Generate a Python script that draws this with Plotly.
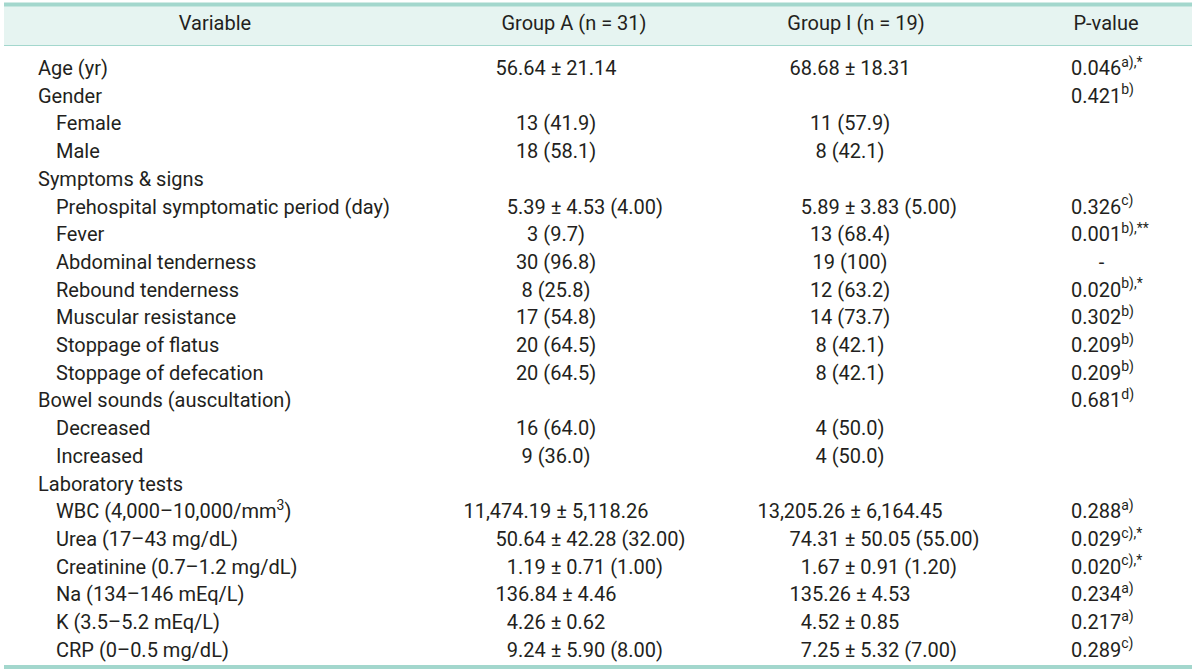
import plotly.graph_objects as go

# ---- table content -------------------------------------------------------
headers = ["Variable", "Group A (n = 31)", "Group I (n = 19)", "P-value"]

variables = [
    "Age (yr)", "Gender", "Female", "Male", "Symptoms & signs",
    "Prehospital symptomatic period (day)", "Fever", "Abdominal tenderness",
    "Rebound tenderness", "Muscular resistance", "Stoppage of flatus",
    "Stoppage of defecation", "Bowel sounds (auscultation)", "Decreased",
    "Increased", "Laboratory tests", "WBC (4,000–10,000/mm<sup>3</sup>)",
    "Urea (17–43 mg/dL)", "Creatinine (0.7–1.2 mg/dL)", "Na (134–146 mEq/L)",
    "K (3.5–5.2 mEq/L)", "CRP (0–0.5 mg/dL)",
]
levels = [0, 0, 1, 1, 0, 1, 1, 1, 1, 1, 1, 1, 0, 1, 1, 0, 1, 1, 1, 1, 1, 1]

group_a = [
    "56.64 ± 21.14", "", "13 (41.9)", "18 (58.1)", "",
    "5.39 ± 4.53 (4.00)", "3 (9.7)", "30 (96.8)", "8 (25.8)", "17 (54.8)",
    "20 (64.5)", "20 (64.5)", "", "16 (64.0)", "9 (36.0)", "",
    "11,474.19 ± 5,118.26", "50.64 ± 42.28 (32.00)", "1.19 ± 0.71 (1.00)",
    "136.84 ± 4.46", "4.26 ± 0.62", "9.24 ± 5.90 (8.00)",
]
group_i = [
    "68.68 ± 18.31", "", "11 (57.9)", "8 (42.1)", "",
    "5.89 ± 3.83 (5.00)", "13 (68.4)", "19 (100)", "12 (63.2)", "14 (73.7)",
    "8 (42.1)", "8 (42.1)", "", "4 (50.0)", "4 (50.0)", "",
    "13,205.26 ± 6,164.45", "74.31 ± 50.05 (55.00)", "1.67 ± 0.91 (1.20)",
    "135.26 ± 4.53", "4.52 ± 0.85", "7.25 ± 5.32 (7.00)",
]
p_values = [
    "0.046", "0.421", "", "", "", "0.326", "0.001", "-", "0.020", "0.302",
    "0.209", "0.209", "0.681", "", "", "", "0.288", "0.029", "0.020",
    "0.234", "0.217", "0.289",
]
p_notes = [
    "a),*", "b)", "", "", "", "c)", "b),**", "", "b),*", "b)",
    "b)", "b)", "d)", "", "", "", "a)", "c),*", "c),*",
    "a)", "a)", "c)",
]

# ---- geometry (pixels) ---------------------------------------------------
W, H = 1200, 672
ROW0, STEP = 70, 27.7
TEXT = "#231f20"
TEAL = "#a3d7cd"
BAND = "#e6f4f1"
FONT = dict(family="Roboto", size=20, color=TEXT)


def yv(px):
    return (px - ROW0) / STEP


def centered(cell):
    # keep "mean ± SD" centred and let the median hang to the right
    if cell.count("(") == 1 and "±" in cell:
        tail = cell[cell.index("("):]
        return f'<span style="color:rgba(0,0,0,0)">{tail}&nbsp;</span>{cell}'
    return cell


def p_text(val, note):
    if val == "-":
        return '<span style="color:rgba(0,0,0,0)">0.0</span>-'
    if note:
        return f"{val}<sup>{note}</sup>"
    return val


rows = list(range(len(variables)))

fig = go.Figure()

fig.add_trace(go.Scatter(
    x=[38 + 18 * lv for lv in levels], y=rows, text=variables,
    mode="text", textposition="middle right", textfont=FONT,
))
fig.add_trace(go.Scatter(
    x=[556] * len(rows), y=rows, text=[centered(c) for c in group_a],
    mode="text", textposition="middle center", textfont=FONT,
))
fig.add_trace(go.Scatter(
    x=[850] * len(rows), y=rows, text=[centered(c) for c in group_i],
    mode="text", textposition="middle center", textfont=FONT,
))
fig.add_trace(go.Scatter(
    x=[1071] * len(rows), y=rows,
    text=[p_text(v, n) for v, n in zip(p_values, p_notes)],
    mode="text", textposition="middle right", textfont=FONT,
))
fig.add_trace(go.Scatter(
    x=[215, 574, 856, 1106], y=[yv(25)] * 4, text=headers,
    mode="text", textposition="middle center", textfont=FONT,
))

fig.add_shape(type="rect", x0=4, x1=1192, y0=yv(6), y1=yv(45),
              fillcolor=BAND, line_width=0, layer="below")
fig.add_shape(type="line", x0=4, x1=1192, y0=yv(4.5), y1=yv(4.5),
              line=dict(color=TEAL, width=4))
fig.add_shape(type="line", x0=4, x1=1192, y0=yv(45.5), y1=yv(45.5),
              line=dict(color=TEAL, width=1.2))
fig.add_shape(type="line", x0=4, x1=1192, y0=yv(667), y1=yv(667),
              line=dict(color=TEAL, width=4))

fig.update_layout(
    width=W, height=H,
    margin=dict(l=0, r=0, t=0, b=0),
    paper_bgcolor="white", plot_bgcolor="white",
    showlegend=False,
    hovermode=False,
    xaxis=dict(range=[0, W], visible=False, fixedrange=True),
    yaxis=dict(range=[yv(H), yv(0)], visible=False, fixedrange=True),
)

fig.write_html(
    "out.html",
    config={"displayModeBar": False, "staticPlot": True},
    post_script="document.body.style.margin = '0';",
)
